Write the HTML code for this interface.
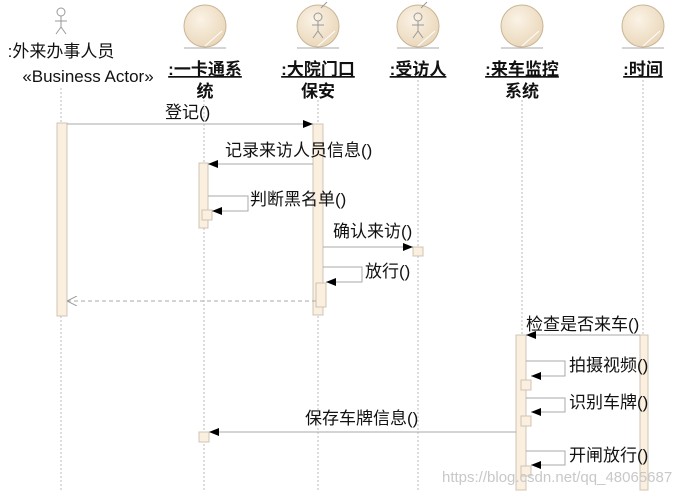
<!DOCTYPE html>
<html><head><meta charset="utf-8"><style>
html,body{margin:0;padding:0;background:#fff;}
svg{display:block;font-family:"Liberation Sans","Noto Sans CJK SC",sans-serif;}
</style></head><body>
<svg width="693" height="495" viewBox="0 0 693 495" xmlns="http://www.w3.org/2000/svg">
<defs>
<radialGradient id="g" cx="0.4" cy="0.35" r="0.7"><stop offset="0" stop-color="#fbf3e6"/><stop offset="1" stop-color="#e9d6b8"/></radialGradient>
<marker id="a" markerWidth="10" markerHeight="8" refX="10" refY="4" orient="auto" markerUnits="userSpaceOnUse"><path d="M0,0 L10,4 L0,8 z" fill="#000"/></marker>
<marker id="o" markerWidth="10" markerHeight="10" refX="10" refY="5" orient="auto" markerUnits="userSpaceOnUse"><path d="M0,0 L10,5 L0,10" fill="none" stroke="#999"/></marker>
</defs>
<g stroke="#bbb" stroke-dasharray="2,2" stroke-width="1">
<line x1="61" y1="88" x2="61" y2="492"/>
<line x1="204" y1="100" x2="204" y2="492"/>
<line x1="318" y1="100" x2="318" y2="492"/>
<line x1="418" y1="80" x2="418" y2="492"/>
<line x1="522" y1="100" x2="522" y2="492"/>
<line x1="643" y1="80" x2="643" y2="492"/>
</g>
<g stroke="#999" fill="none" stroke-width="1">
<circle cx="61" cy="12" r="4"/><line x1="61" y1="16" x2="61" y2="27"/><line x1="55" y1="21" x2="67" y2="21"/><line x1="61" y1="27" x2="56" y2="34"/><line x1="61" y1="27" x2="66" y2="34"/>
</g>
<g stroke="#c9b596" stroke-width="1">
<circle cx="205" cy="26" r="21" fill="url(#g)"/><line x1="184" y1="48" x2="226" y2="48" stroke="#aaa"/><line x1="205" y1="46" x2="222" y2="31" stroke="#fff"/>
<circle cx="318" cy="26" r="21" fill="url(#g)"/><line x1="297" y1="48" x2="339" y2="48" stroke="#aaa"/><line x1="318" y1="46" x2="335" y2="31" stroke="#fff"/>
<circle cx="418" cy="26" r="21" fill="url(#g)"/><line x1="397" y1="48" x2="439" y2="48" stroke="#aaa"/><line x1="418" y1="46" x2="435" y2="31" stroke="#fff"/>
<circle cx="522" cy="26" r="21" fill="url(#g)"/><line x1="501" y1="48" x2="543" y2="48" stroke="#aaa"/><line x1="522" y1="46" x2="539" y2="31" stroke="#fff"/>
<circle cx="643" cy="26" r="21" fill="url(#g)"/><line x1="622" y1="48" x2="664" y2="48" stroke="#aaa"/><line x1="643" y1="46" x2="660" y2="31" stroke="#fff"/>
</g>
<g stroke="#999" fill="none">
<circle cx="318" cy="17" r="4"/><line x1="318" y1="21" x2="318" y2="31"/><line x1="312" y1="25" x2="324" y2="25"/><line x1="318" y1="31" x2="313" y2="38"/><line x1="318" y1="31" x2="323" y2="38"/><line x1="321" y1="8" x2="327" y2="2"/>
<circle cx="418" cy="17" r="4"/><line x1="418" y1="21" x2="418" y2="31"/><line x1="412" y1="25" x2="424" y2="25"/><line x1="418" y1="31" x2="413" y2="38"/><line x1="418" y1="31" x2="423" y2="38"/><line x1="421" y1="8" x2="427" y2="2"/>
</g>
<g font-size="17" fill="#111" text-anchor="middle">
<text x="61" y="57">:外来办事人员</text>
<text x="88" y="82">«Business Actor»</text>
<g font-weight="bold" text-decoration="underline">
<text x="205" y="75">:一卡通系</text><text x="318" y="75">:大院门口</text><text x="418" y="75">:受访人</text><text x="522" y="75">:来车监控</text><text x="643" y="75">:时间</text>
</g>
<g font-weight="bold"><text x="205" y="97">统</text><text x="318" y="97">保安</text><text x="522" y="97">系统</text></g>
</g>
<g fill="#fbefe0" stroke="#cfc4b4" stroke-width="1">
<rect x="57" y="123" width="10" height="193"/>
<rect x="313" y="124" width="10" height="191"/>
<rect x="199" y="163" width="9" height="65"/>
<rect x="202" y="210" width="10" height="10"/>
<rect x="413" y="247" width="10" height="9"/>
<rect x="316" y="283" width="10" height="24"/>
<rect x="516" y="335" width="10" height="155"/>
<rect x="640" y="335" width="8" height="155"/>
<rect x="521" y="380" width="10" height="10"/>
<rect x="521" y="416" width="10" height="10"/>
<rect x="521" y="466" width="10" height="10"/>
<rect x="199" y="432" width="10" height="10"/>
</g>
<g stroke="#aaa" stroke-width="1" fill="none" marker-end="url(#a)">
<line x1="67" y1="124" x2="313" y2="124"/>
<line x1="313" y1="164" x2="208" y2="164"/>
<polyline points="208,196 248,196 248,211 212,211"/>
<line x1="323" y1="247" x2="413" y2="247"/>
<polyline points="323,267 362,267 362,282 326,282"/>
<line x1="640" y1="335" x2="526" y2="335"/>
<polyline points="526,361 565,361 565,376 531,376"/>
<polyline points="526,398 565,398 565,412 531,412"/>
<line x1="516" y1="432" x2="209" y2="432"/>
<polyline points="526,451 565,451 565,465 531,465"/>
</g>
<line x1="316" y1="301" x2="67" y2="301" stroke="#aaa" stroke-dasharray="4,3" marker-end="url(#o)"/>
<g font-size="17" fill="#111">
<text x="165" y="118">登记()</text>
<text x="225" y="156">记录来访人员信息()</text>
<text x="250" y="205">判断黑名单()</text>
<text x="333" y="237">确认来访()</text>
<text x="365" y="277">放行()</text>
<text x="526" y="330">检查是否来车()</text>
<text x="569" y="371">拍摄视频()</text>
<text x="569" y="408">识别车牌()</text>
<text x="305" y="424">保存车牌信息()</text>
<text x="569" y="461">开闸放行()</text>
</g>
<text x="442" y="482" font-size="15" fill="#c8c8c8">https://blog.csdn.net/qq_48065687</text>
</svg>
</body></html>
